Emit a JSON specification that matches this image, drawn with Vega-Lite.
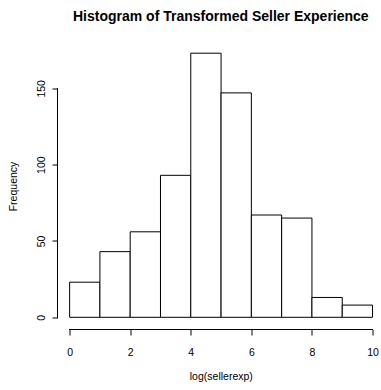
{
  "$schema": "https://vega.github.io/schema/vega-lite/v6.json",
  "autosize": "none",
  "width": 322.6,
  "height": 287,
  "padding": {"left": 57.5, "top": 42.5, "right": 0.9, "bottom": 60.5},
  "background": "white",
  "config": {
    "font": "Liberation Sans",
    "view": {"stroke": null},
    "axis": {
      "domain": false,
      "grid": false,
      "ticks": true,
      "tickColor": "black",
      "tickWidth": 1,
      "tickSize": 5.5,
      "labelColor": "black",
      "labelFont": "Liberation Sans",
      "labelFontSize": 10.5,
      "titleColor": "black",
      "titleFont": "Liberation Sans",
      "titleFontSize": 10.5,
      "titleFontWeight": "normal"
    }
  },
  "title": {
    "text": "Histogram of Transformed Seller Experience",
    "font": "Liberation Sans",
    "fontSize": 14,
    "fontWeight": "bold",
    "color": "black",
    "anchor": "middle",
    "frame": "group",
    "baseline": "alphabetic",
    "offset": 8,
    "dx": 2
  },
  "datasets": {
    "bins": [
      {"start": 0, "end": 1, "count": 23},
      {"start": 1, "end": 2, "count": 43},
      {"start": 2, "end": 3, "count": 56},
      {"start": 3, "end": 4, "count": 93},
      {"start": 4, "end": 5, "count": 173},
      {"start": 5, "end": 6, "count": 147},
      {"start": 6, "end": 7, "count": 67},
      {"start": 7, "end": 8, "count": 65},
      {"start": 8, "end": 9, "count": 13},
      {"start": 9, "end": 10, "count": 8}
    ]
  },
  "data": {"name": "bins"},
  "layer": [
    {
      "mark": {"type": "rect", "fill": "white", "stroke": "black", "strokeWidth": 1},
      "encoding": {
        "x": {
          "field": "start",
          "type": "quantitative",
          "scale": {"domain": [-0.4, 10.25], "nice": false, "zero": false},
          "axis": {
            "values": [0, 2, 4, 6, 8, 10],
            "labelBaseline": "alphabetic",
            "labelPadding": 20,
            "title": "log(sellerexp)",
            "titleBaseline": "middle",
            "titleY": 47,
            "titleX": 163.3
          }
        },
        "x2": {"field": "end"},
        "y": {
          "field": "count",
          "type": "quantitative",
          "scale": {"domain": [-7.99, 180.0], "nice": false, "zero": false},
          "axis": {
            "values": [0, 50, 100, 150],
            "labelAngle": 270,
            "labelAlign": "center",
            "labelBaseline": "alphabetic",
            "labelPadding": 7.5,
            "title": "Frequency",
            "titleAngle": 270,
            "titleBaseline": "middle",
            "titleX": -43.7,
            "titleY": 143.5
          }
        },
        "y2": {"datum": 0}
      }
    },
    {
      "mark": {"type": "rule", "color": "black", "strokeWidth": 1},
      "encoding": {
        "x": {"datum": 0},
        "x2": {"datum": 10},
        "y": {"datum": -7.99}
      }
    },
    {
      "mark": {"type": "rule", "color": "black", "strokeWidth": 1},
      "encoding": {
        "x": {"datum": -0.4},
        "y": {"datum": 0},
        "y2": {"datum": 150}
      }
    }
  ]
}
